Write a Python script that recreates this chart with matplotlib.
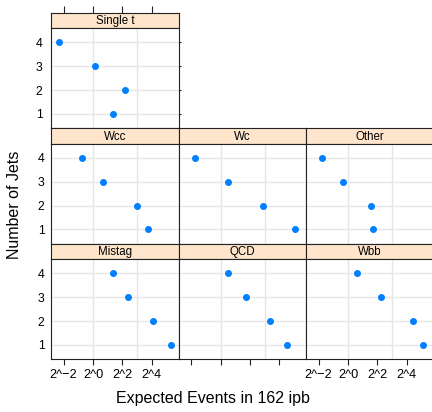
import matplotlib
matplotlib.use("Agg")
import matplotlib.pyplot as plt
from matplotlib.ticker import FixedLocator, FixedFormatter, NullFormatter
import numpy as np

plt.rcParams['font.family'] = ['Liberation Sans', 'DejaVu Sans']

# ---- data ----
njets = [1, 2, 3, 4]
panel_names = ["Single t", "Wcc", "Wc", "Other", "Mistag", "QCD", "Wbb"]
single_t = [2.60, 4.53, 1.09, 0.203]
wcc = [13.4, 7.9, 1.60, 0.60]
wc = [33.4, 7.5, 1.40, 0.30]
other = [3.20, 2.97, 0.78, 0.297]
mistag = [39.7, 16.8, 5.13, 2.57]
qcd = [23.1, 10.2, 3.34, 1.40]
wbb = [35.3, 21.3, 4.82, 1.56]
series = [single_t, wcc, wc, other, mistag, qcd, wbb]
x_ticks = [0.25, 1, 4, 16]
x_tick_labels = ["2^\u22122", "2^0", "2^2", "2^4"]
y_tick_labels = ["1", "2", "3", "4"]
grid_x = [1, 8]

# ---- layout (pixels) ----
W, H = 432, 412
fig = plt.figure(figsize=(W / 100, H / 100), dpi=100)

left0 = 51.3
colw = 127.5
top0 = 12.7
rowh = 115.53
striph = 15.3
panelh = rowh - striph

positions = [(0, 0), (1, 0), (1, 1), (1, 2), (2, 0), (2, 1), (2, 2)]

def rect(x0, ytop, w, h):
    return [x0 / W, 1 - (ytop + h) / H, w / W, h / H]

xlim = (2 ** -2.845, 2 ** 5.847)
dark = "#222222"
strip_col = "#ffe5cc"
dot_col = "#0080ff"
grid_col = "#e6e6e6"

for name, vals, (r, c) in zip(panel_names, series, positions):
    x0 = left0 + c * colw
    ys = top0 + r * rowh
    # strip
    sax = fig.add_axes(rect(x0, ys, colw, striph))
    sax.set_facecolor(strip_col)
    sax.set_xscale('log', base=2)
    sax.set_xlim(*xlim)
    sax.set_ylim(0, 1)
    sax.text(0.5, 0.45, name, transform=sax.transAxes, ha='center', va='center',
             fontsize=8.3, color='black')
    for sp in sax.spines.values():
        sp.set_color(dark)
        sp.set_linewidth(0.8)
    sax.yaxis.set_visible(False)
    if r == 0:
        sax.xaxis.set_ticks_position('top')
        sax.xaxis.set_major_locator(FixedLocator(x_ticks))
        sax.xaxis.set_minor_locator(FixedLocator([]))
        sax.xaxis.set_major_formatter(NullFormatter())
        sax.tick_params(axis='x', direction='out', length=5.2, width=0.8, color=dark)
    else:
        sax.set_xticks([])
        sax.xaxis.set_minor_locator(FixedLocator([]))

    # panel
    ax = fig.add_axes(rect(x0, ys + striph, colw, panelh))
    ax.set_xscale('log', base=2)
    ax.set_xlim(*xlim)
    ax.set_ylim(0.4, 4.6)
    for g in grid_x:
        ax.axvline(g, color=grid_col, lw=1.0, zorder=0)
    for j in njets:
        ax.axhline(j, color=grid_col, lw=1.0, zorder=0)
    ax.plot(vals, njets, 'o', color=dot_col, ms=4.0, mec=dot_col, zorder=3)
    for sp in ax.spines.values():
        sp.set_color(dark)
        sp.set_linewidth(0.8)
    ax.xaxis.set_minor_locator(FixedLocator([]))
    ax.xaxis.set_major_locator(FixedLocator(x_ticks))
    ax.yaxis.set_major_locator(FixedLocator(njets))
    # y axis
    if c == 0:
        ax.yaxis.set_major_formatter(FixedFormatter(y_tick_labels))
        ax.tick_params(axis='y', which='both', left=True, length=0, pad=4.8,
                       labelsize=8.8, labelcolor='black')
        if r == 0:
            ax.tick_params(axis='y', right=True, direction='out', length=1.6,
                           width=0.8, color=dark)
            ax.tick_params(axis='y', which='major', left=False)
    else:
        ax.tick_params(axis='y', left=False, labelleft=False)
    # x axis
    if r == 2:
        ax.tick_params(axis='x', direction='out', length=4.4, width=0.8, color=dark,
                       labelsize=9.2, pad=2.5, labelcolor='black')
        if c == 1:
            ax.xaxis.set_major_formatter(NullFormatter())
        else:
            ax.xaxis.set_major_formatter(FixedFormatter(x_tick_labels))
    else:
        ax.tick_params(axis='x', bottom=False, labelbottom=False)

fig.text(213 / W, 1 - 398 / H, "Expected Events in 162 ipb", ha='center', va='center',
         fontsize=11.5, color='black')
fig.text(15 / W, 1 - 205 / H, "Number of Jets", ha='center', va='center',
         rotation=90, fontsize=11.5, color='black')

fig.savefig("out.png", dpi=100)
